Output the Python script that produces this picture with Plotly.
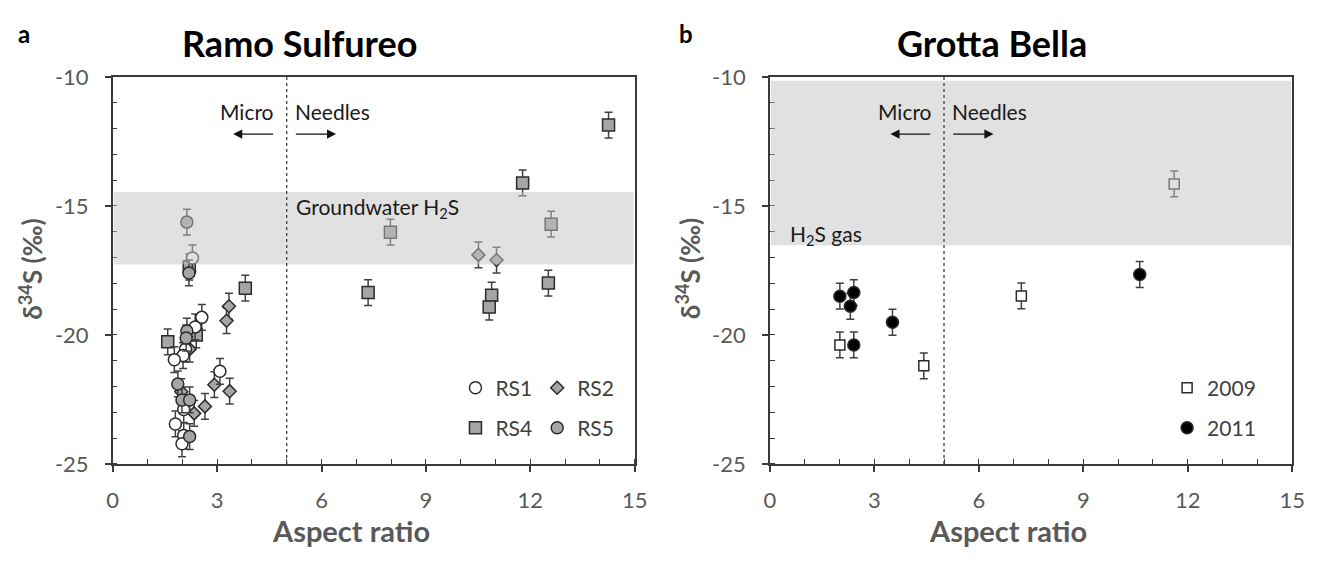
import plotly.graph_objects as go

# ---------------- data ----------------
# Panel a: Ramo Sulfureo
RS1_x = [2.56, 2.37, 2.09, 2.02, 1.77, 3.08, 2.04, 1.80, 2.04, 1.99, 2.29]
RS1_y = [-19.32, -19.69, -20.55, -20.80, -20.96, -21.41, -22.89, -23.45, -23.90, -24.22, -17.02]
RS2_x = [3.34, 3.27, 2.21, 2.92, 3.36, 2.65, 2.34, 1.97, 10.51, 11.03]
RS2_y = [-18.89, -19.45, -20.55, -21.93, -22.18, -22.77, -23.04, -22.20, -16.90, -17.10]
RS4_x = [3.81, 1.58, 2.40, 2.20, 7.34, 7.98, 10.89, 10.82, 11.78, 12.52, 12.60, 14.25]
RS4_y = [-18.19, -20.27, -20.00, -17.37, -18.36, -16.02, -18.46, -18.92, -14.11, -17.99, -15.71, -11.87]
RS5_x = [2.13, 2.19, 2.13, 2.11, 1.87, 1.99, 2.21, 2.21]
RS5_y = [-15.63, -17.60, -19.85, -20.12, -21.90, -22.52, -22.52, -23.94]
ERR_RS = 0.5

# Panel b: Grotta Bella
Y2009_x = [2.01, 4.42, 7.22, 11.61]
Y2009_y = [-20.39, -21.20, -18.49, -14.15]
Y2011_x = [2.01, 2.41, 2.31, 2.41, 3.52, 10.62]
Y2011_y = [-18.50, -18.36, -18.89, -20.39, -19.51, -17.66]
ERR_GB = 0.5

GROUNDWATER_BAND = [-17.27, -14.46]
H2S_GAS_BAND = [-16.53, -10.15]
X_TICKS = [0, 3, 6, 9, 12, 15]
X_LABELS = ["0", "3", "6", "9", "12", "15"]
Y_TICKS = [-25, -20, -15, -10]
Y_LABELS = ["-25", "-20", "-15", "-10"]

# ---------------- style ----------------
FONT = "Lato"
AX_COL = "#3a3a3a"
TXT_COL = "#595959"
ERR_COL = "#404040"
FILL = "#a5a5a5"
EDGE = "#2b2b2b"

W, H = 1324, 561
def px(v):
    return v / W
def py(v):
    return 1 - v / H

fig = go.Figure()

def add(xs, ys, err, name, symbol, size, color, xa, ya, legend, rank):
    fig.add_trace(go.Scatter(
        x=xs, y=ys, mode="markers", name=name,
        xaxis=xa, yaxis=ya, legend=legend, legendrank=rank,
        marker=dict(symbol=symbol, size=size, color=color,
                    line=dict(color=EDGE, width=1.5)),
        error_y=dict(type="constant", value=err, color=ERR_COL,
                     thickness=1.5, width=4),
    ))

add(RS4_x, RS4_y, ERR_RS, "RS4", "square", 12, FILL, "x", "y", "legend2", 1)
add(RS2_x, RS2_y, ERR_RS, "RS2", "diamond", 10, FILL, "x", "y", "legend", 2)
add(RS1_x, RS1_y, ERR_RS, "RS1", "circle", 12, "white", "x", "y", "legend", 1)
add(RS5_x, RS5_y, ERR_RS, "RS5", "circle", 12, FILL, "x", "y", "legend2", 2)
add(Y2009_x, Y2009_y, ERR_GB, "2009", "square", 10, "white", "x2", "y2", "legend3", 1)
add(Y2011_x, Y2011_y, ERR_GB, "2011", "circle", 12, "black", "x2", "y2", "legend4", 1)

axis_common = dict(
    showline=True, linecolor=AX_COL, linewidth=1.5, mirror=True,
    ticks="outside", ticklen=6, tickwidth=1.5, tickcolor=AX_COL,
    showgrid=False, zeroline=False,
    tickfont=dict(family=FONT, size=22, color=TXT_COL),
    minor=dict(ticks="inside", ticklen=5, tickwidth=1.2, tickcolor=AX_COL, dtick=1, showgrid=False),
)

xdom1 = [px(108.3), px(637.8)]
xdom2 = [px(775), px(1305)]
ydom = [py(472.7), py(66)]

fig.update_layout(
    autosize=True,
    margin=dict(l=0, r=0, t=0, b=0, pad=0),
    plot_bgcolor="white", paper_bgcolor="white",
    font=dict(family=FONT, color=TXT_COL),
    xaxis=dict(domain=xdom1, range=[0, 15], tickvals=X_TICKS, ticktext=X_LABELS, anchor="y",
               ticklabelstandoff=10, **axis_common),
    yaxis=dict(domain=ydom, range=[-25, -10], tickvals=Y_TICKS, ticktext=Y_LABELS, anchor="x",
               ticklabelstandoff=12, **axis_common),
    xaxis2=dict(domain=xdom2, range=[0, 15], tickvals=X_TICKS, ticktext=X_LABELS, anchor="y2",
                ticklabelstandoff=10, **axis_common),
    yaxis2=dict(domain=ydom, range=[-25, -10], tickvals=Y_TICKS, ticktext=Y_LABELS, anchor="x2",
                ticklabelstandoff=12, **axis_common),
)

leg_common = dict(orientation="h", bgcolor="rgba(0,0,0,0)", xanchor="left", yanchor="middle",
                  font=dict(family=FONT, size=21, color="#404040"), itemclick=False)
fig.update_layout(
    legend=dict(x=px(456), y=py(393), **leg_common),
    legend2=dict(x=px(456), y=py(435), **leg_common),
    legend3=dict(x=px(1178), y=py(393), **leg_common),
    legend4=dict(x=px(1178), y=py(435), **leg_common),
)

shapes = []
# translucent bands drawn above the markers
shapes.append(dict(type="rect", xref="x", yref="y", x0=0.03, x1=14.97,
                   y0=GROUNDWATER_BAND[0], y1=GROUNDWATER_BAND[1],
                   fillcolor="rgb(195,195,195)", opacity=0.5, line=dict(width=0), layer="above"))
shapes.append(dict(type="rect", xref="x2", yref="y2", x0=0.03, x1=14.97,
                   y0=H2S_GAS_BAND[0], y1=H2S_GAS_BAND[1],
                   fillcolor="rgb(195,195,195)", opacity=0.5, line=dict(width=0), layer="above"))
for xr, yr in (("x", "y"), ("x2", "y2")):
    shapes.append(dict(type="line", xref=xr, yref=yr, x0=5, x1=5, y0=-25, y1=-10,
                       line=dict(color="#404040", width=1.3, dash="dot"), layer="above"))
fig.update_layout(shapes=shapes)

ann = []
ann_font = dict(family=FONT, size=21, color="#1a1a1a")
for xr, yr in (("x", "y"), ("x2", "y2")):
    ann.append(dict(xref=xr, yref=yr, x=4.7, y=-11.33, text="Micro", showarrow=False,
                    xanchor="right", yanchor="middle", font=ann_font))
    ann.append(dict(xref=xr, yref=yr, x=5.18, y=-11.33, text="Needles", showarrow=False,
                    xanchor="left", yanchor="middle", font=ann_font))
    ann.append(dict(xref=xr, yref=yr, axref=xr, ayref=yr, x=3.46, y=-12.22, ax=4.65, ay=-12.22,
                    text="", showarrow=True, arrowhead=2, arrowsize=1.4, arrowwidth=1.3,
                    arrowcolor="#111"))
    ann.append(dict(xref=xr, yref=yr, axref=xr, ayref=yr, x=6.42, y=-12.22, ax=5.22, ay=-12.22,
                    text="", showarrow=True, arrowhead=2, arrowsize=1.4, arrowwidth=1.3,
                    arrowcolor="#111"))
ann.append(dict(xref="x", yref="y", x=5.22, y=-15.07, text="Groundwater H<sub>2</sub>S",
                showarrow=False, xanchor="left", yanchor="middle", font=ann_font))
ann.append(dict(xref="x2", yref="y2", x=0.52, y=-16.12, text="H<sub>2</sub>S gas",
                showarrow=False, xanchor="left", yanchor="middle", font=ann_font))

# titles and labels
title_font = dict(family=FONT, size=36, color="black")
ann.append(dict(xref="paper", yref="paper", x=px(298), y=py(30), text="<b>Ramo Sulfureo</b>",
                showarrow=False, xanchor="center", yanchor="middle", font=title_font))
ann.append(dict(xref="paper", yref="paper", x=px(1000), y=py(30), text="<b>Grotta Bella</b>",
                showarrow=False, xanchor="center", yanchor="middle", font=title_font))
letter_font = dict(family=FONT, size=24, color="black")
ann.append(dict(xref="paper", yref="paper", x=px(18), y=py(20), text="<b>a</b>",
                showarrow=False, xanchor="center", yanchor="middle", font=letter_font))
ann.append(dict(xref="paper", yref="paper", x=px(690), y=py(20), text="<b>b</b>",
                showarrow=False, xanchor="center", yanchor="middle", font=letter_font))
axt_font = dict(family=FONT, size=29, color=TXT_COL)
for cx in (350, 1017):
    ann.append(dict(xref="paper", yref="paper", x=px(cx), y=py(543), text="<b>Aspect ratio</b>",
                    showarrow=False, xanchor="center", yanchor="middle", font=axt_font))
yt_font = dict(family=FONT, size=26, color=TXT_COL)
for cx in (25, 692):
    ann.append(dict(xref="paper", yref="paper", x=px(cx), y=py(268), text="<b>δ<sup>34</sup>S (‰)</b>",
                    showarrow=False, xanchor="center", yanchor="middle", textangle=-90, font=yt_font))
fig.update_layout(annotations=ann)

fig.write_html(
    "out.html",
    default_width="100vw",
    default_height="100vh",
    config={"displayModeBar": False, "responsive": True},
    post_script=(
        "document.documentElement.style.margin='0';"
        "document.documentElement.style.overflow='hidden';"
        "document.body.style.margin='0';"
        "document.body.style.overflow='hidden';"
        "Plotly.Plots.resize(document.getElementById('{plot_id}'));"
    ),
)
